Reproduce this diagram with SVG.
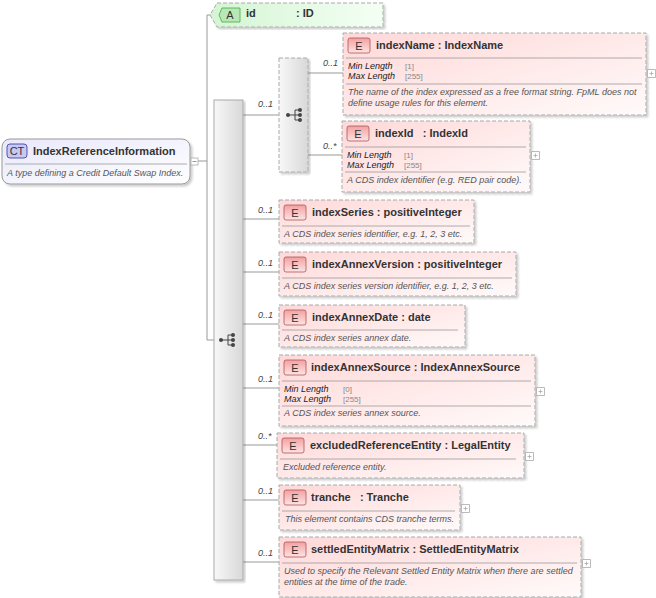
<svg xmlns="http://www.w3.org/2000/svg" width="656" height="598" viewBox="0 0 656 598">
<defs>
<linearGradient id="gE" x1="0" y1="0" x2="1" y2="1"><stop offset="0" stop-color="#ffd8d8"/><stop offset="1" stop-color="#fffafa"/></linearGradient>
<linearGradient id="gB" x1="0" y1="0" x2="0" y2="1"><stop offset="0" stop-color="#f4a0a0"/><stop offset="1" stop-color="#fde4e4"/></linearGradient>
<linearGradient id="gS" x1="0" y1="0" x2="1" y2="0"><stop offset="0" stop-color="#f8f8f8"/><stop offset="1" stop-color="#d8d8d8"/></linearGradient>
<linearGradient id="gCT" x1="0" y1="0" x2="1" y2="1"><stop offset="0" stop-color="#e8e8fb"/><stop offset="1" stop-color="#ffffff"/></linearGradient>
<linearGradient id="gA" x1="0" y1="0" x2="1" y2="0"><stop offset="0" stop-color="#d4f5d4"/><stop offset="1" stop-color="#f4fff4"/></linearGradient>
<filter id="sh"><feDropShadow dx="2" dy="2" stdDeviation="1" flood-color="#000" flood-opacity="0.2"/></filter>
<g id="seqicon"><line x1="-7" y1="0" x2="0" y2="0" stroke="#444"/><line x1="0" y1="-5" x2="0" y2="5" stroke="#444"/><line x1="0" y1="-5" x2="5" y2="-5" stroke="#444"/><line x1="0" y1="0" x2="5" y2="0" stroke="#444"/><line x1="0" y1="5" x2="5" y2="5" stroke="#444"/><circle cx="-7" cy="0" r="2" fill="#444"/><circle cx="5" cy="-5" r="2" fill="#444"/><circle cx="5" cy="0" r="2" fill="#444"/><circle cx="5" cy="5" r="2" fill="#444"/></g>
<path id="plus" d="M0.5 0.5H8.5V8.5H0.5ZM2.5 4.5H6.5M4.5 2.5V6.5" fill="#fff" stroke="#aaa" stroke-width="0.8"/>
</defs>
<style>
text{white-space:pre}
.el{fill:url(#gE);stroke:#aaa;stroke-dasharray:4 2;filter:url(#sh)}
.badge{fill:url(#gB);stroke:#a55;stroke-width:0.8}
.bt{font:11px "Liberation Sans",sans-serif;fill:#333;text-anchor:middle}
.t{font:bold 11px "Liberation Sans",sans-serif;fill:#333}
.d{font:italic 9px "Liberation Sans",sans-serif;fill:#555}
.k{font:italic 9px "Liberation Sans",sans-serif;fill:#222}
.v{font:8px "Liberation Sans",sans-serif;fill:#888}
.m{font:italic 9px "Liberation Sans",sans-serif;fill:#444}
.sep{stroke:#999;stroke-width:0.8}
.c{stroke:#999;fill:none}
</style>
<g id="connectors">
<path class="c" d="M197 161H207M207 15V340M207 15H217M207 340H214"/>
<path class="c" d="M243 115H279M243 219H279M243 272H279M243 324H279M243 388H279M243 445H277M243 500H279M243 562H279"/>
<path class="c" d="M308 73H343M308 155H342"/>
<text class="m" x="258" y="107">0..1</text>
<text class="m" x="323" y="66">0..1</text>
<text class="m" x="323" y="149">0..*</text>
<text class="m" x="258" y="213">0..1</text>
<text class="m" x="258" y="266">0..1</text>
<text class="m" x="258" y="318">0..1</text>
<text class="m" x="258" y="382">0..1</text>
<text class="m" x="258" y="439">0..*</text>
<text class="m" x="258" y="494">0..1</text>
<text class="m" x="258" y="556">0..1</text>
</g>
<g id="ct">
<rect x="2" y="139" width="188" height="45" rx="8" fill="url(#gCT)" stroke="#999" filter="url(#sh)"/>
<rect x="7" y="144" width="20" height="14" rx="3" fill="#c8c8f4" stroke="#55a"/>
<text class="bt" x="17" y="155">CT</text>
<text class="t" x="33" y="155">IndexReferenceInformation</text>
<line class="sep" x1="5" y1="164" x2="187" y2="164"/>
<text class="d" x="7" y="176">A type defining a Credit Default Swap Index.</text>
<rect x="191" y="158" width="7" height="7" fill="#fff" stroke="#aaa" stroke-width="0.8"/><line x1="192.5" y1="161.5" x2="196.5" y2="161.5" stroke="#999"/>
</g>
<g id="attr-id">
<path d="M217 3H383V27H217L210 15Z" fill="url(#gA)" stroke="#aaa" stroke-dasharray="4 2" filter="url(#sh)"/>
<path d="M222 8H240V22H222L219 15Z" fill="#b8e8b8" stroke="#4a4" stroke-width="0.8"/>
<text class="bt" x="230" y="19">A</text>
<text class="t" x="246" y="17">id</text>
<text class="t" x="296" y="17">: ID</text>
</g>
<g id="sequence">
<rect x="214" y="100" width="29" height="480" fill="url(#gS)" stroke="#aaa" filter="url(#sh)"/>
<use href="#seqicon" x="228" y="340"/>
</g>
<g id="choice">
<rect x="279" y="58" width="29" height="114" fill="url(#gS)" stroke="#aaa" stroke-dasharray="4 2" filter="url(#sh)"/>
<use href="#seqicon" x="295" y="115"/>
</g>
<g id="indexName">
<rect class="el" x="343" y="33" width="303" height="82"/>
<rect class="badge" x="348" y="38" width="22" height="15" rx="2"/><text class="bt" x="359" y="50">E</text>
<text class="t" x="376" y="49">indexName : IndexName</text>
<line class="sep" x1="346" y1="58" x2="642" y2="58"/>
<text class="k" x="348" y="69">Min Length</text><text class="v" x="405" y="69">[1]</text>
<text class="k" x="348" y="79">Max Length</text><text class="v" x="405" y="79">[255]</text>
<line class="sep" x1="346" y1="84" x2="642" y2="84"/>
<text class="d" x="348" y="95">The name of the index expressed as a free format string. FpML does not</text>
<text class="d" x="348" y="106">define usage rules for this element.</text>
<use href="#plus" x="647" y="69"/>
</g>
<g id="indexId">
<rect class="el" x="342" y="121" width="188" height="71"/>
<rect class="badge" x="347" y="126" width="22" height="15" rx="2"/><text class="bt" x="358" y="138">E</text>
<text class="t" x="375" y="137">indexId   : IndexId</text>
<line class="sep" x1="345" y1="147" x2="526" y2="147"/>
<text class="k" x="347" y="158">Min Length</text><text class="v" x="404" y="158">[1]</text>
<text class="k" x="347" y="168">Max Length</text><text class="v" x="404" y="168">[255]</text>
<line class="sep" x1="345" y1="172" x2="526" y2="172"/>
<text class="d" x="347" y="183">A CDS index identifier (e.g. RED pair code).</text>
<use href="#plus" x="531" y="151"/>
</g>
<g id="indexSeries">
<rect class="el" x="279" y="200" width="195" height="43"/>
<rect class="badge" x="284" y="205" width="22" height="15" rx="2"/><text class="bt" x="295" y="217">E</text>
<text class="t" x="312" y="216">indexSeries : positiveInteger</text>
<line class="sep" x1="282" y1="226" x2="470" y2="226"/>
<text class="d" x="284" y="237">A CDS index series identifier, e.g. 1, 2, 3 etc.</text>
</g>
<g id="indexAnnexVersion">
<rect class="el" x="279" y="252" width="237" height="44"/>
<rect class="badge" x="284" y="257" width="22" height="15" rx="2"/><text class="bt" x="295" y="269">E</text>
<text class="t" x="312" y="268">indexAnnexVersion : positiveInteger</text>
<line class="sep" x1="282" y1="278" x2="512" y2="278"/>
<text class="d" x="284" y="289">A CDS index series version identifier, e.g. 1, 2, 3 etc.</text>
</g>
<g id="indexAnnexDate">
<rect class="el" x="279" y="305" width="186" height="42"/>
<rect class="badge" x="284" y="310" width="22" height="15" rx="2"/><text class="bt" x="295" y="322">E</text>
<text class="t" x="312" y="321">indexAnnexDate : date</text>
<line class="sep" x1="282" y1="330" x2="458" y2="330"/>
<text class="d" x="284" y="341">A CDS index series annex date.</text>
</g>
<g id="indexAnnexSource">
<rect class="el" x="279" y="355" width="256" height="71"/>
<rect class="badge" x="284" y="360" width="22" height="15" rx="2"/><text class="bt" x="295" y="372">E</text>
<text class="t" x="311" y="371">indexAnnexSource : IndexAnnexSource</text>
<line class="sep" x1="282" y1="381" x2="531" y2="381"/>
<text class="k" x="284" y="392">Min Length</text><text class="v" x="343" y="392">[0]</text>
<text class="k" x="284" y="402">Max Length</text><text class="v" x="343" y="402">[255]</text>
<line class="sep" x1="282" y1="406" x2="531" y2="406"/>
<text class="d" x="284" y="416">A CDS index series annex source.</text>
<use href="#plus" x="536" y="387"/>
</g>
<g id="excludedReferenceEntity">
<rect class="el" x="277" y="433" width="247" height="45"/>
<rect class="badge" x="282" y="438" width="22" height="15" rx="2"/><text class="bt" x="293" y="450">E</text>
<text class="t" x="310" y="449">excludedReferenceEntity : LegalEntity</text>
<line class="sep" x1="280" y1="459" x2="516" y2="459"/>
<text class="d" x="283" y="470">Excluded reference entity.</text>
<use href="#plus" x="525" y="452"/>
</g>
<g id="tranche">
<rect class="el" x="279" y="485" width="181" height="45"/>
<rect class="badge" x="284" y="490" width="22" height="15" rx="2"/><text class="bt" x="295" y="502">E</text>
<text class="t" x="311" y="501">tranche   : Tranche</text>
<line class="sep" x1="282" y1="511" x2="455" y2="511"/>
<text class="d" x="285" y="522">This element contains CDS tranche terms.</text>
<use href="#plus" x="461" y="504"/>
</g>
<g id="settledEntityMatrix">
<rect class="el" x="279" y="537" width="302" height="60"/>
<rect class="badge" x="284" y="542" width="22" height="15" rx="2"/><text class="bt" x="295" y="554">E</text>
<text class="t" x="311" y="553">settledEntityMatrix : SettledEntityMatrix</text>
<line class="sep" x1="282" y1="563" x2="577" y2="563"/>
<text class="d" x="284" y="574">Used to specify the Relevant Settled Entity Matrix when there are settled</text>
<text class="d" x="284" y="585">entities at the time of the trade.</text>
<use href="#plus" x="582" y="559"/>
</g>
</svg>
